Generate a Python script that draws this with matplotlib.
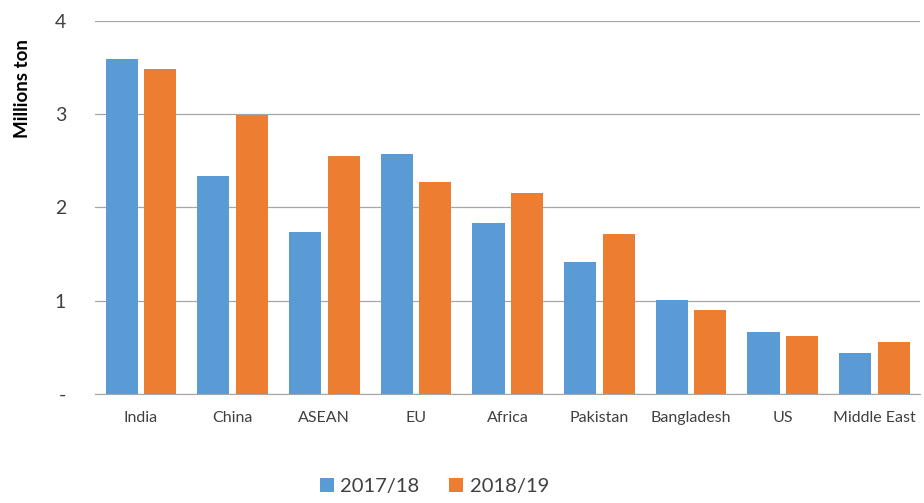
import matplotlib.pyplot as plt
import numpy as np

plt.rcParams['font.family'] = ['Lato', 'DejaVu Sans']

regions = ["India", "China", "ASEAN", "EU", "Africa", "Pakistan", "Bangladesh", "US", "Middle East"]
y2017 = [3.59, 2.34, 1.74, 2.57, 1.83, 1.42, 1.01, 0.66, 0.44]
y2018 = [3.49, 2.99, 2.55, 2.27, 2.16, 1.72, 0.90, 0.62, 0.56]

blue = '#5B9BD5'
orange = '#ED7D31'

fig = plt.figure(figsize=(9.24, 5.03), dpi=100)
ax = fig.add_axes([0.103, 0.217, 0.893, 0.741])

x = np.arange(len(regions))
w = 0.35
ax.bar(x - 0.21, y2017, w, color=blue, label="2017/18", zorder=3)
ax.bar(x + 0.21, y2018, w, color=orange, label="2018/19", zorder=3)

ax.set_xlim(-0.5, len(regions) - 0.5)
ax.set_ylim(0, 4)
ax.set_yticks([0, 1, 2, 3, 4])
ax.set_yticklabels(["-", "1", "2", "3", "4"], fontsize=14, color='#404040')
ax.set_xticks(x)
ax.set_xticklabels(regions, fontsize=11.5, color='#404040')
ax.tick_params(axis='both', length=0)
ax.tick_params(axis='x', pad=12)
ax.tick_params(axis='y', pad=21)
ax.yaxis.grid(True, color='#A6A6A6', linewidth=0.9, zorder=0)
for s in ['top', 'right', 'left']:
    ax.spines[s].set_visible(False)
ax.spines['bottom'].set_color('#A6A6A6')
ax.set_ylabel("Millions ton", fontsize=13.5, fontweight='bold')
ax.yaxis.set_label_coords(-0.078, 0.82)

fig.legend(loc='lower center', bbox_to_anchor=(0.47, -0.02), ncol=2, frameon=False,
           fontsize=14.5, handlelength=0.7, handleheight=0.7, handletextpad=0.3,
           columnspacing=1.5, labelcolor='#404040')

fig.savefig("out.png", dpi=100)
